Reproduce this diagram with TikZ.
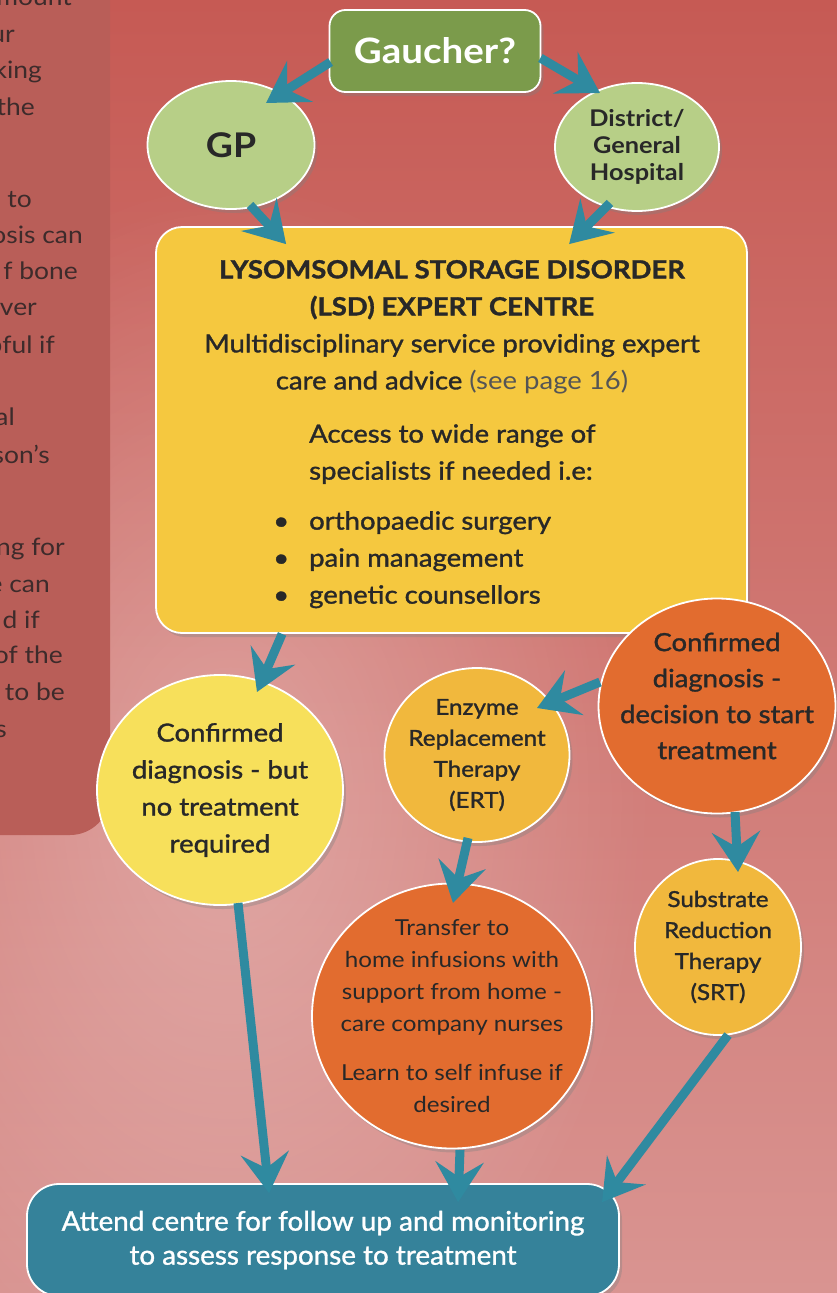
\documentclass[tikz,border=0pt]{standalone}
\usepackage{fontspec}
\setmainfont{Lato}[FakeStretch=1.1]
\newfontfamily\medfont[FakeBold=1.3,FakeStretch=1.1]{Lato}
\newfontfamily\condfont[FakeStretch=1.03,FakeBold=1.2]{Lato}
\usetikzlibrary{arrows.meta,shapes.geometric,shadows,fadings}
\definecolor{bgtop}{HTML}{C65A54}
\definecolor{bgmid}{HTML}{D27A75}
\definecolor{bgbottom}{HTML}{D99491}
\definecolor{panelred}{HTML}{B95E58}
\definecolor{panelink}{HTML}{3D2B2B}
\definecolor{inkdark}{HTML}{282828}
\definecolor{seegray}{HTML}{555555}
\definecolor{leafgreen}{HTML}{7B9B4B}
\definecolor{palegreen}{HTML}{B7CF87}
\definecolor{lsdyellow}{HTML}{F5C83F}
\definecolor{burntorange}{HTML}{E26C2F}
\definecolor{goldbub}{HTML}{F1B83D}
\definecolor{lemon}{HTML}{F7E05B}
\definecolor{boxteal}{HTML}{35829A}
\definecolor{flowteal}{HTML}{2F8AA0}
\tikzfading[name=softglow, inner color=transparent!0, outer color=transparent!100]
\tikzset{every node/.append style={text=inkdark}}
\tikzset{
  bubble/.style={ellipse, draw=white, line width=1.8pt, inner sep=-20pt, align=center,
    drop shadow={shadow xshift=3pt, shadow yshift=-4pt, opacity=.35}},
  card/.style={rectangle, draw=white, line width=1.8pt, inner sep=0pt, align=center,
    drop shadow={shadow xshift=3pt, shadow yshift=-4pt, opacity=.35}},
  flowarrow/.style={draw=flowteal, line width=9pt,
    -{Stealth[length=40pt, width=48pt, inset=15pt]}},
  panelfrag/.style={anchor=base east, inner sep=0pt, text=panelink,
    font=\fontsize{24}{36}\selectfont}
}

\begin{document}
\begin{tikzpicture}[x=1pt,y=-1pt]
\useasboundingbox (0,0) rectangle (837,1293);
% background and side panel
\shade[top color=bgtop, middle color=bgmid, bottom color=bgbottom] (0,0) rectangle (837,1293);
\fill[white, opacity=.3, path fading=softglow] (230,800) ellipse (420 and 620);
\fill[panelred, rounded corners=40] (-60,-60) rectangle (110,835);
\foreach \xr/\yb/\frag in {72/5/mount, 15/42/ur, 42/78/king, 35/115/the, 32/207/to,
    83/243/osis can, 78/279/f bone, 37/315/ver, 55/353/pful if, 15/425/al,
    50/463/son’s, 65/555/ng for, 50/592/e can, 40/628/d if, 63/663/of the,
    65/700/to be, 7/737/s}
  \node[panelfrag] (pf\yb) at (\xr,\yb) {\frag};

% first contact
\node[card, rounded corners=16, fill=leafgreen, minimum width=211, minimum height=82,
  text=white, font=\bfseries\fontsize{35}{40}\selectfont] (gaucher) at (435,51) {Gaucher?};
\node[bubble, fill=palegreen, minimum width=167, minimum height=128,
  font=\bfseries\fontsize{34}{40}\selectfont] (gp) at (231,145) {GP};
\node[bubble, fill=palegreen, minimum width=164, minimum height=128,
  font=\bfseries\fontsize{23}{27}\selectfont] (district) at (637,147) {District/\\General\\Hospital};

% expert centre
\node[card, rounded corners=26, fill=lsdyellow, minimum width=591, minimum height=406] (lsd) at (451.5,430) {};
\node[align=center, inner sep=0pt, font=\medfont\fontsize{25}{37}\selectfont] (lsdhead) at (452,327)
  {{\bfseries LYSOMSOMAL STORAGE DISORDER}\\{\bfseries (LSD) EXPERT CENTRE}\\
   Multidisciplinary service providing expert\\
   care and advice {\normalfont\color{seegray}(see page 16)}};
\node[align=left, anchor=north west, inner sep=0pt, font=\medfont\fontsize{25}{37}\selectfont] (lsdspec) at (309,424)
  {Access to wide range of\\specialists if needed i.e:\\[13pt]
   \llap{•\hspace{20pt}}orthopaedic surgery\\
   \llap{•\hspace{20pt}}pain management\\
   \llap{•\hspace{20pt}}genetic counsellors};

% outcomes
\node[bubble, fill=lemon, minimum width=246, minimum height=230,
  font=\medfont\fontsize{25}{37}\selectfont] (notreat) at (220,790)
  {Confirmed\\diagnosis - but\\no treatment\\required};
\node[bubble, fill=burntorange, minimum width=237, minimum height=215] (confirm) at (717,706) {};
\node[align=center, inner sep=0pt, font=\medfont\fontsize{25}{36}\selectfont] (confirmtext) at (717,696)
  {Confirmed\\diagnosis -\\decision to start\\treatment};
\node[bubble, fill=goldbub, minimum width=185, minimum height=174,
  font=\medfont\fontsize{22}{31}\selectfont] (ert) at (477,755)
  {Enzyme\\Replacement\\Therapy\\(ERT)};
\node[bubble, fill=goldbub, minimum width=166, minimum height=176,
  font=\medfont\fontsize{22}{31}\selectfont] (srt) at (718,947)
  {Substrate\\Reduction\\Therapy\\(SRT)};
\node[bubble, inner sep=-30pt, fill=burntorange, minimum width=280, minimum height=265,
  font=\fontsize{22}{32}\selectfont] (transfer) at (452,1016)
  {Transfer to\\home infusions with\\support from home -\\care company nurses\\[17pt]
   Learn to self infuse if\\desired};
\node[card, rounded corners=32, fill=boxteal, minimum width=592, minimum height=112,
  text=white, font=\condfont\fontsize{27}{34}\selectfont] (attend) at (323,1240)
  {Attend centre for follow up and monitoring\\to assess response to treatment};

% connectors
\draw[flowarrow] ([shift={(2,11)}]gaucher.west) -- ([shift={(35,-42)}]gp.center);
\draw[flowarrow] ([shift={(-1,7)}]gaucher.east) -- ([shift={(-37,-54)}]district.center);
\draw[flowarrow] ([shift={(19,60)}]gp.center) -- ([shift={(131,18)}]lsd.north west);
\draw[flowarrow] ([shift={(-27,56)}]district.center) -- ([shift={(414,18)}]lsd.north west);
\draw[flowarrow] ([shift={(127,0)}]lsd.south west) -- ([shift={(37,-98)}]notreat.center);
\draw[flowarrow] ([shift={(18,113)}]notreat.center) -- ([shift={(243,10)}]attend.north west);
\draw[flowarrow] ([shift={(-117,-24)}]confirm.center) -- ([shift={(60,-47)}]ert.center);
\draw[flowarrow] ([shift={(18,106)}]confirm.center) -- ([shift={(20,-75)}]srt.center);
\draw[flowarrow] ([shift={(-9,83)}]ert.center) -- ([shift={(1,-113)}]transfer.center);
\draw[flowarrow] ([shift={(8,134)}]transfer.center) -- ([shift={(432,19)}]attend.north west);
\draw[flowarrow] ([shift={(10,88)}]srt.center) -- ([shift={(576,19)}]attend.north west);
\end{tikzpicture}
\end{document}
